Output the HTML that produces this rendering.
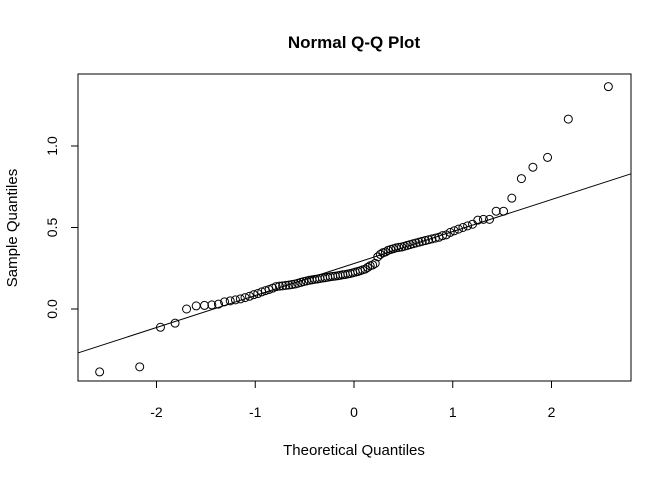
<!DOCTYPE html>
<html><head><meta charset="utf-8"><style>
body{margin:0;background:#fff}
svg text{font-family:"Liberation Sans",sans-serif;fill:#000}
</style></head><body>
<svg id="chart" width="672" height="480" xmlns="http://www.w3.org/2000/svg">
<rect width="672" height="480" fill="#fff"/>
<text x="354" y="48" text-anchor="middle" font-size="17" font-weight="bold">Normal Q-Q Plot</text>
<text x="354" y="455" text-anchor="middle" font-size="15">Theoretical Quantiles</text>
<text x="17" y="228" text-anchor="middle" font-size="15" transform="rotate(-90 17 228)">Sample Quantiles</text>
<rect x="78" y="74" width="553" height="307" fill="none" stroke="#000" stroke-width="1"/>
<g id="xaxis"></g>
<g id="yaxis"></g>
<g id="marks"></g>
</svg>
<script>
const sampleValues = [-0.386,-0.355,-0.112,-0.087,0.0,0.019,0.022,0.025,0.03,0.044,
0.05,0.056,0.062,0.07,0.078,0.088,0.095,0.105,0.113,0.12,
0.128,0.137,0.14,0.142,0.145,0.147,0.15,0.153,0.158,0.163,
0.168,0.172,0.176,0.179,0.182,0.184,0.187,0.19,0.192,0.195,
0.198,0.2,0.202,0.204,0.207,0.21,0.212,0.215,0.218,0.222,
0.226,0.23,0.235,0.24,0.245,0.255,0.265,0.27,0.28,0.32,
0.335,0.345,0.35,0.36,0.365,0.37,0.375,0.378,0.38,0.385,
0.39,0.395,0.40,0.405,0.41,0.415,0.42,0.425,0.43,0.435,
0.44,0.45,0.455,0.47,0.48,0.49,0.50,0.51,0.52,0.545,
0.55,0.55,0.60,0.60,0.68,0.80,0.87,0.93,1.165,1.364];
const xTicks = [-2,-1,0,1,2];
const xTickLabels = ["-2","-1","0","1","2"];
const yTicks = [0,0.5,1.0];
const yTickLabels = ["0.0","0.5","1.0"];

const NS="http://www.w3.org/2000/svg";
function X(q){return 354+98.75*q;}
function Y(v){return 309-163*v;}
function qnorm(p){
  const a=[-39.69683028665376,220.9460984245205,-275.9285104469687,138.3577518672690,-30.66479806614716,2.506628277459239];
  const b=[-54.47609879822406,161.5858368580409,-155.6989798598866,66.80131188771972,-13.28068155288572];
  const c=[-0.007784894002430293,-0.3223964580411365,-2.400758277161838,-2.549732539343734,4.374664141464968,2.938163982698783];
  const d=[0.007784695709041462,0.3224671290700398,2.445134137142996,3.754408661907416];
  let q,r;
  if(p<0.02425){q=Math.sqrt(-2*Math.log(p));return (((((c[0]*q+c[1])*q+c[2])*q+c[3])*q+c[4])*q+c[5])/((((d[0]*q+d[1])*q+d[2])*q+d[3])*q+1);}
  if(p>1-0.02425){q=Math.sqrt(-2*Math.log(1-p));return -(((((c[0]*q+c[1])*q+c[2])*q+c[3])*q+c[4])*q+c[5])/((((d[0]*q+d[1])*q+d[2])*q+d[3])*q+1);}
  q=p-0.5;r=q*q;return (((((a[0]*r+a[1])*r+a[2])*r+a[3])*r+a[4])*r+a[5])*q/(((((b[0]*r+b[1])*r+b[2])*r+b[3])*r+b[4])*r+1);
}
function mk(tag,attrs,parent){const e=document.createElementNS(NS,tag);for(const k in attrs)e.setAttribute(k,attrs[k]);parent.appendChild(e);return e;}
const xa=document.getElementById('xaxis'),ya=document.getElementById('yaxis'),mg=document.getElementById('marks');
mk('line',{x1:X(xTicks[0]),x2:X(xTicks[xTicks.length-1]),y1:381,y2:381,stroke:'#000'},xa);
xTicks.forEach((t,i)=>{
  const l=mk('line',{x1:X(t),x2:X(t),y1:381,y2:388,stroke:'#000'},xa);
  
  
  const tx=mk('text',{x:X(t),y:417,'text-anchor':'middle','font-size':'14'},xa);
  tx.textContent=xTickLabels[i];
  
  
});
mk('line',{x1:78,x2:78,y1:Y(yTicks[0]),y2:Y(yTicks[yTicks.length-1]),stroke:'#000'},ya);
yTicks.forEach((t,i)=>{
  const l=mk('line',{x1:71,x2:78,y1:Y(t),y2:Y(t),stroke:'#000'},ya);
  
  
  const tx=mk('text',{x:57,y:Y(t),'text-anchor':'middle','font-size':'14',transform:`rotate(-90 57 ${Y(t)})`},ya);
  tx.textContent=yTickLabels[i];
  
  
});
const n=sampleValues.length;
const sorted=sampleValues.slice().sort((a,b)=>a-b);
const aa=n<=10?3/8:0.5;
sorted.forEach((v,i)=>{
  const q=qnorm((i+1-aa)/(n+1-2*aa));
  const c=mk('circle',{cx:X(q),cy:Y(v),r:4,fill:'none',stroke:'#000','stroke-width':1},mg);
  
  
});
function quant(p){const h=(n-1)*p,lo=Math.floor(h);return sorted[lo]+(h-lo)*(sorted[Math.min(lo+1,n-1)]-sorted[lo]);}
const q1=quant(0.25),q3=quant(0.75),z1=qnorm(0.25),z3=qnorm(0.75);
const slope=(q3-q1)/(z3-z1),icpt=q1-slope*z1;
const qa=(78-354)/98.75,qb=(631-354)/98.75;
const ln=mk('line',{x1:78,x2:631,y1:Y(icpt+slope*qa),y2:Y(icpt+slope*qb),stroke:'#000','stroke-width':1},mg);


</script>
</body></html>
